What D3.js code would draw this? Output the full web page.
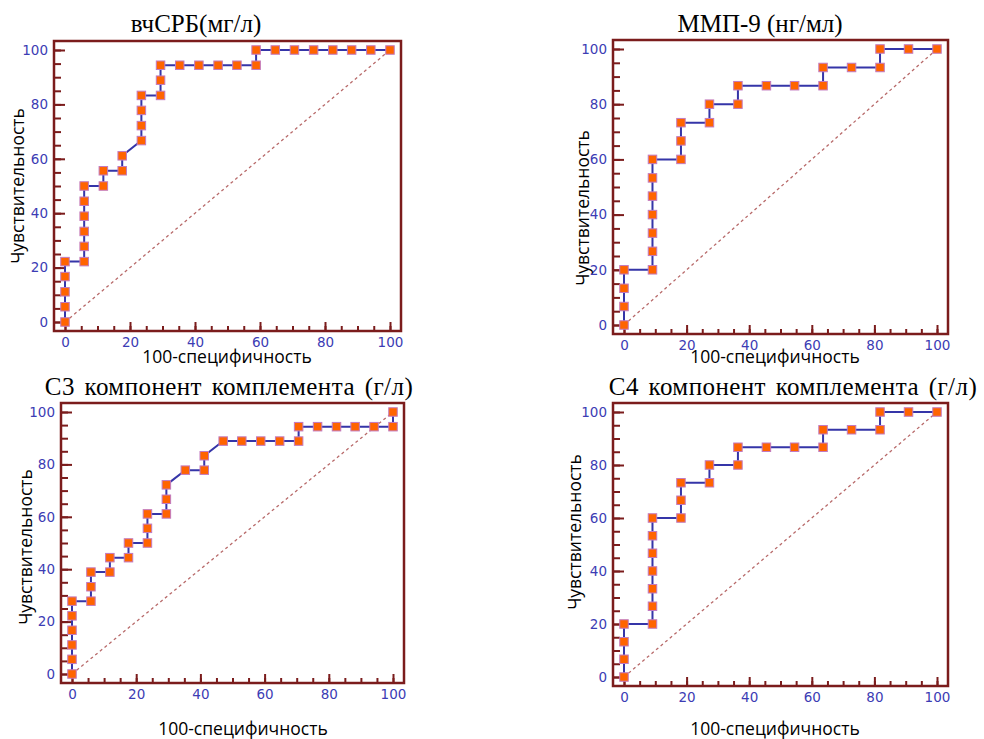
<!DOCTYPE html>
<html>
<head>
<meta charset="utf-8">
<script src="https://cdn.jsdelivr.net/npm/d3@7"></script>
<style>
  body { margin: 0; background: #fff; }
  .tick text { font-family: "DejaVu Sans", sans-serif; font-size: 13.5px; fill: #3c3cb4; }
  .tick line { stroke: #7b1c1c; stroke-width: 2; }
  .title { font-family: "Liberation Serif", serif; font-size: 25px; fill: #000; }
  .title.wide { letter-spacing: 0.45px; word-spacing: 3px; }
  .axis-title { font-family: "Open Sans", sans-serif; font-size: 17.5px; fill: #000; }
</style>
</head>
<body>
<svg width="984" height="739"></svg>
<script>
// ROC curves: x = 100-специфичность, y = Чувствительность
var crpX = [0, 0, 0, 0, 0, 5.9, 5.9, 5.9, 5.9, 5.9, 5.9, 11.8, 11.8, 17.6, 17.6, 23.5, 23.5, 23.5, 23.5,
  29.4, 29.4, 29.4, 35.3, 41.2, 47.1, 52.9, 58.8, 58.8, 64.7, 70.6, 76.5, 82.4, 88.2, 94.1, 100];
var crpY = [0, 5.6, 11.1, 16.7, 22.2, 22.2, 27.8, 33.3, 38.9, 44.4, 50, 50, 55.6, 55.6, 61.1, 66.7, 72.2, 77.8, 83.3,
  83.3, 88.9, 94.4, 94.4, 94.4, 94.4, 94.4, 94.4, 100, 100, 100, 100, 100, 100, 100, 100];

var mmpX = [0, 0, 0, 0, 9.1, 9.1, 9.1, 9.1, 9.1, 9.1, 9.1, 18.2, 18.2, 18.2, 27.3, 27.3, 36.4, 36.4,
  45.5, 54.5, 63.6, 63.6, 72.7, 81.8, 81.8, 90.9, 100];
var mmpY = [0, 6.7, 13.3, 20, 20, 26.7, 33.3, 40, 46.7, 53.3, 60, 60, 66.7, 73.3, 73.3, 80, 80, 86.7,
  86.7, 86.7, 86.7, 93.3, 93.3, 93.3, 100, 100, 100];

var c3X = [0, 0, 0, 0, 0, 0, 5.9, 5.9, 5.9, 11.8, 11.8, 17.6, 17.6, 23.5, 23.5, 23.5, 29.4, 29.4, 29.4,
  35.3, 41.2, 41.2, 47.1, 52.9, 58.8, 64.7, 70.6, 70.6, 76.5, 82.4, 88.2, 94.1, 100, 100];
var c3Y = [0, 5.6, 11.1, 16.7, 22.2, 27.8, 27.8, 33.3, 38.9, 38.9, 44.4, 44.4, 50, 50, 55.6, 61.1, 61.1, 66.7, 72.2,
  77.8, 77.8, 83.3, 88.9, 88.9, 88.9, 88.9, 88.9, 94.4, 94.4, 94.4, 94.4, 94.4, 94.4, 100];

var c4X = [0, 0, 0, 0, 9.1, 9.1, 9.1, 9.1, 9.1, 9.1, 9.1, 18.2, 18.2, 18.2, 27.3, 27.3, 36.4, 36.4,
  45.5, 54.5, 63.6, 63.6, 72.7, 81.8, 81.8, 90.9, 100];
var c4Y = [0, 6.7, 13.3, 20, 20, 26.7, 33.3, 40, 46.7, 53.3, 60, 60, 66.7, 73.3, 73.3, 80, 80, 86.7,
  86.7, 86.7, 86.7, 93.3, 93.3, 93.3, 100, 100, 100];

var majorTicks = [0, 20, 40, 60, 80, 100];
var minorTicks = d3.range(0, 101, 5);

var xTitle = "100-специфичность",
  yTitle = "Чувствительность";

// frame = [left, top, right, bottom]
var panels = [
  {title: "вчСРБ(мг/л)", xs: crpX, ys: crpY, frame: [54, 41, 401, 331],
    tx: 196, ty: 32, yl: [18, 186], xl: [227, 363]},
  {title: "ММП-9 (нг/мл)", xs: mmpX, ys: mmpY, frame: [613, 40, 948, 334],
    tx: 760, ty: 32, yl: [583, 208], xl: [775, 363]},
  {title: "С3 компонент комплемента (г/л)", xs: c3X, ys: c3Y, frame: [61, 403, 404, 683], wide: true,
    tx: 229, ty: 395, yl: [26, 547], xl: [243, 735]},
  {title: "С4 компонент комплемента (г/л)", xs: c4X, ys: c4Y, frame: [613, 403, 948, 686], wide: true,
    tx: 793, ty: 395, yl: [575, 532], xl: [775, 735]}
];

var svg = d3.select("svg");

panels.forEach(function (p) {
  var f = p.frame;
  var x = d3.scaleLinear().domain([0, 100]).range([f[0] + 11, f[2] - 11]);
  var y = d3.scaleLinear().domain([0, 100]).range([f[3] - 9, f[1] + 9]);
  var g = svg.append("g");

  // ticks (inside the frame)
  g.append("g")
    .attr("transform", "translate(" + f[0] + ",0)")
    .call(d3.axisLeft(y).tickValues(minorTicks).tickSize(-7).tickFormat(""))
    .call(function (a) { a.select(".domain").remove(); });
  g.append("g")
    .attr("transform", "translate(" + f[0] + ",0)")
    .call(d3.axisLeft(y).tickValues(majorTicks).tickSize(-11).tickPadding(6))
    .call(function (a) { a.select(".domain").remove(); });
  g.append("g")
    .attr("transform", "translate(0," + f[3] + ")")
    .call(d3.axisBottom(x).tickValues(minorTicks).tickSize(-5).tickFormat(""))
    .call(function (a) { a.select(".domain").remove(); });
  g.append("g")
    .attr("transform", "translate(0," + f[3] + ")")
    .call(d3.axisBottom(x).tickValues(majorTicks).tickSize(-9).tickPadding(6))
    .call(function (a) { a.select(".domain").remove(); });

  g.append("rect")
    .attr("x", f[0]).attr("y", f[1])
    .attr("width", f[2] - f[0]).attr("height", f[3] - f[1])
    .attr("fill", "none")
    .attr("stroke", "#7b1c1c")
    .attr("stroke-width", 2.5);

  // reference diagonal
  g.append("line")
    .attr("x1", x(0)).attr("y1", y(0))
    .attr("x2", x(100)).attr("y2", y(100))
    .attr("stroke", "#b86a6a")
    .attr("stroke-width", 1.3)
    .attr("stroke-dasharray", "3,3");

  var pts = p.xs.map(function (v, i) { return [v, p.ys[i]]; });

  g.append("path")
    .datum(pts)
    .attr("fill", "none")
    .attr("stroke", "#3535a8")
    .attr("stroke-width", 2)
    .attr("d", d3.line().x(function (d) { return x(d[0]); }).y(function (d) { return y(d[1]); }));

  g.selectAll("rect.pt")
    .data(pts)
    .enter().append("rect")
    .attr("class", "pt")
    .attr("x", function (d) { return x(d[0]) - 4.25; })
    .attr("y", function (d) { return y(d[1]) - 4.25; })
    .attr("width", 8.5).attr("height", 8.5)
    .attr("fill", "#ff6400")
    .attr("stroke", "#c27ac0")
    .attr("stroke-width", 1);

  svg.append("text")
    .attr("class", p.wide ? "title wide" : "title")
    .attr("x", p.tx).attr("y", p.ty)
    .attr("text-anchor", "middle")
    .text(p.title);

  svg.append("text")
    .attr("class", "axis-title")
    .attr("transform", "translate(" + p.yl[0] + "," + p.yl[1] + ") rotate(-90)")
    .attr("text-anchor", "middle")
    .attr("dy", "0.35em")
    .text(yTitle);

  svg.append("text")
    .attr("class", "axis-title")
    .attr("x", p.xl[0]).attr("y", p.xl[1])
    .attr("text-anchor", "middle")
    .text(xTitle);
});
</script>
</body>
</html>
